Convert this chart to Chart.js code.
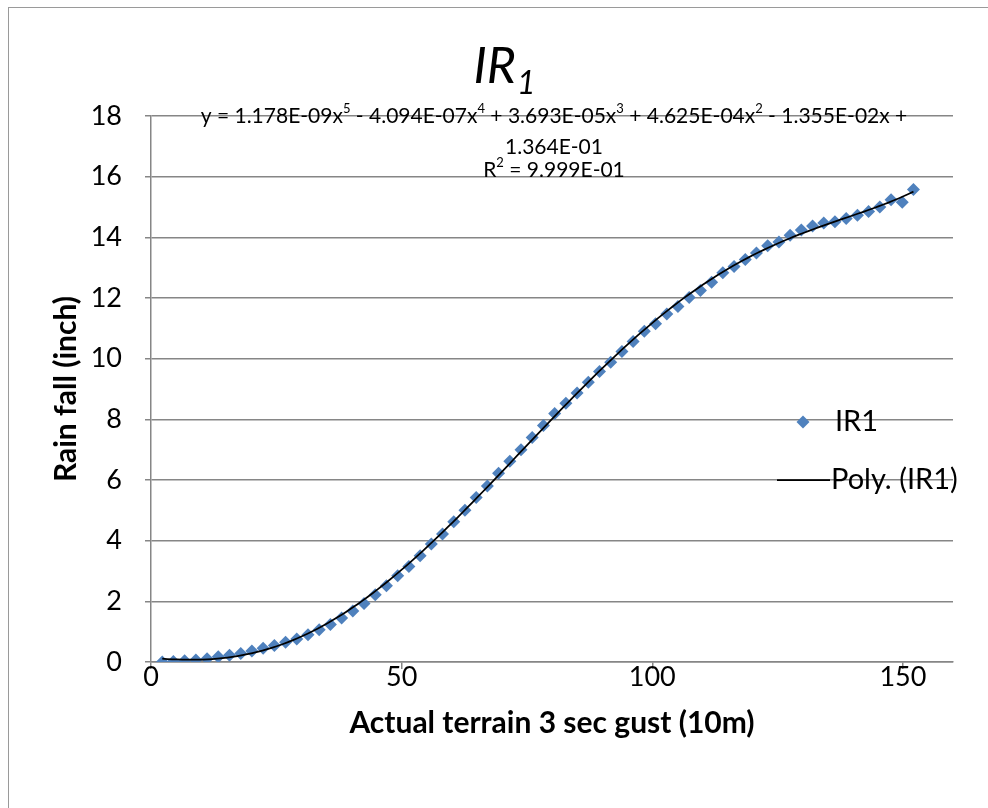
<!DOCTYPE html>
<html>
<head>
<meta charset="utf-8">
<script src="https://cdn.jsdelivr.net/npm/chart.js@4.4.1/dist/chart.umd.min.js"></script>
<style>
  html, body { margin: 0; padding: 0; background: #fff; }
  #wrap { width: 988px; height: 808px; position: relative; }
</style>
</head>
<body>
<div id="wrap"><canvas id="rainChart" width="988" height="808"></canvas></div>
<script>
// gust speed (mph) and rain fall (inch)
const gustMph = [
  2.24, 4.47, 6.71, 8.95, 11.18, 13.42, 15.66, 17.90, 20.13, 22.37,
  24.61, 26.84, 29.08, 31.32, 33.55, 35.79, 38.03, 40.26, 42.50, 44.74,
  46.97, 49.21, 51.45, 53.69, 55.92, 58.16, 60.40, 62.63, 64.87, 67.11,
  69.34, 71.58, 73.82, 76.05, 78.29, 80.53, 82.77, 85.00, 87.24, 89.48,
  91.71, 93.95, 96.19, 98.42, 100.66, 102.90, 105.13, 107.37, 109.61, 111.85,
  114.08, 116.32, 118.56, 120.79, 123.03, 125.27, 127.50, 129.74, 131.98, 134.21,
  136.45, 138.69, 140.93, 143.16, 145.40, 147.64, 149.87, 152.11
];
const rainInch = [
  0.00, 0.02, 0.04, 0.07, 0.11, 0.17, 0.22, 0.28, 0.36, 0.45,
  0.54, 0.65, 0.76, 0.90, 1.06, 1.24, 1.45, 1.68, 1.93, 2.22,
  2.51, 2.84, 3.15, 3.50, 3.89, 4.22, 4.62, 5.00, 5.42, 5.80,
  6.22, 6.62, 7.00, 7.40, 7.80, 8.19, 8.53, 8.87, 9.22, 9.58,
  9.88, 10.24, 10.57, 10.90, 11.15, 11.47, 11.72, 12.02, 12.25, 12.52,
  12.83, 13.04, 13.27, 13.48, 13.72, 13.85, 14.07, 14.24, 14.37, 14.47,
  14.51, 14.62, 14.73, 14.85, 15.00, 15.24, 15.16, 15.58
];

// polynomial trendline coefficients, constant term first (from the chart label)
const trendCoefs = [1.364E-01, -1.355E-02, 4.625E-04, 3.693E-05, -4.094E-07, 1.178E-09];
// ^n marks a superscript digit
const eqLines = [
  "y = 1.178E-09x^5 - 4.094E-07x^4 + 3.693E-05x^3 + 4.625E-04x^2 - 1.355E-02x +",
  "1.364E-01",
  "R^2 = 9.999E-01"
];

const xTicks = [0, 50, 100, 150];
const yTicks = [0, 2, 4, 6, 8, 10, 12, 14, 16, 18];

const FONT = "Lato";
const GRID = "#868686";
const BLUE = "#4F81BD";

function polyAt(x) {
  let y = 0;
  for (let i = trendCoefs.length - 1; i >= 0; i--) y = y * x + trendCoefs[i];
  return y;
}

const trendPts = [];
const x0 = gustMph[0], x1 = gustMph[gustMph.length - 1];
for (let i = 0; i <= 150; i++) {
  const x = x0 + (x1 - x0) * i / 150;
  trendPts.push({ x: x, y: polyAt(x) });
}

// draws text centred on cx, with ^d rendered as a raised small digit
function drawRich(ctx, str, cx, y, size) {
  const parts = str.split(/(\^\d)/).filter(p => p.length);
  const big = size + "px " + FONT, small = Math.round(size * 0.62) + "px " + FONT;
  let total = 0;
  parts.forEach(p => {
    ctx.font = p[0] === "^" ? small : big;
    total += ctx.measureText(p[0] === "^" ? p.slice(1) : p).width;
  });
  let x = cx - total / 2;
  parts.forEach(p => {
    const sup = p[0] === "^";
    const t = sup ? p.slice(1) : p;
    ctx.font = sup ? small : big;
    ctx.fillText(t, x, sup ? y - size * 0.33 : y);
    x += ctx.measureText(t).width;
  });
}

// title, equation, legend and frame
const notesPlugin = {
  id: "notes",
  afterDraw(chart) {
    const ctx = chart.ctx;
    ctx.save();

    ctx.strokeStyle = "#9a9a9a";
    ctx.lineWidth = 1;
    ctx.strokeRect(8.5, 7.5, 1000, 820);

    // title IR with subscript 1
    ctx.fillStyle = "#000";
    ctx.textBaseline = "alphabetic";
    ctx.font = "italic 50px " + FONT;
    const wIR = ctx.measureText("IR").width;
    ctx.font = "italic 32px " + FONT;
    const wSub = ctx.measureText("1").width;
    const tx = 504 - (wIR + wSub) / 2;
    ctx.font = "italic 50px " + FONT;
    ctx.textAlign = "left";
    ctx.fillText("IR", tx, 83);
    ctx.font = "italic 32px " + FONT;
    ctx.fillText("1", tx + wIR + 1, 94);

    // trendline equation
    ctx.textAlign = "left";
    ctx.textBaseline = "middle";
    const eqY = [116, 147, 170];
    eqLines.forEach((t, i) => drawRich(ctx, t, 554, eqY[i], 21));

    // legend
    ctx.font = "29px " + FONT;
    ctx.textAlign = "left";
    ctx.fillStyle = BLUE;
    ctx.beginPath();
    ctx.moveTo(803 - 6.5, 422);
    ctx.lineTo(803, 415.5);
    ctx.lineTo(803 + 6.5, 422);
    ctx.lineTo(803, 428.5);
    ctx.closePath();
    ctx.fill();
    ctx.fillStyle = "#000";
    ctx.fillText(chart.data.datasets[1].label, 835, 422);
    ctx.strokeStyle = "#000";
    ctx.lineWidth = 1.75;
    ctx.beginPath();
    ctx.moveTo(777, 480);
    ctx.lineTo(830, 480);
    ctx.stroke();
    ctx.fillText(chart.data.datasets[0].label, 831, 480);

    ctx.restore();
  }
};

Chart.defaults.font.family = FONT;
Chart.defaults.color = "#000";

new Chart(document.getElementById("rainChart"), {
  type: "scatter",
  data: {
    datasets: [
      {
        label: "Poly. (IR1)",
        data: trendPts,
        showLine: true,
        borderColor: "#000",
        borderWidth: 1.75,
        pointRadius: 0,
        fill: false,
        order: 0
      },
      {
        label: "IR1",
        data: gustMph.map((x, i) => ({ x: x, y: rainInch[i] })),
        pointStyle: "rectRot",
        pointRadius: 6.5,
        backgroundColor: BLUE,
        borderColor: BLUE,
        borderWidth: 0,
        order: 1
      }
    ]
  },
  options: {
    responsive: false,
    animation: false,
    layout: { padding: { left: 0, right: 35, top: 116, bottom: 0 } },
    plugins: {
      legend: { display: false },
      tooltip: { enabled: false }
    },
    scales: {
      x: {
        type: "linear",
        min: 0,
        max: 160,
        afterBuildTicks: s => { s.ticks = xTicks.map(v => ({ value: v })); },
        afterFit: s => { s.height = 146; },
        border: { color: GRID, width: 1.5 },
        grid: { drawOnChartArea: false, tickLength: 7, color: GRID, lineWidth: 1.5 },
        ticks: { font: { size: 27, lineHeight: 1 }, padding: -5, color: "#000" },
        title: {
          display: true,
          text: "Actual terrain 3 sec gust (10m)",
          font: { size: 30, weight: "bold" },
          padding: { top: 0, bottom: 67 }
        }
      },
      y: {
        type: "linear",
        min: 0,
        max: 18,
        afterBuildTicks: s => { s.ticks = yTicks.map(v => ({ value: v })); },
        afterFit: s => { s.width = 151; },
        border: { color: GRID, width: 1.5 },
        grid: { tickLength: 6, color: GRID, lineWidth: 1.5 },
        ticks: { font: { size: 27 }, padding: 23, color: "#000" },
        title: {
          display: true,
          text: "Rain fall (inch)",
          font: { size: 30, weight: "bold" },
          padding: { top: 48, bottom: 0 }
        }
      }
    }
  },
  plugins: [notesPlugin]
});
</script>
</body>
</html>
